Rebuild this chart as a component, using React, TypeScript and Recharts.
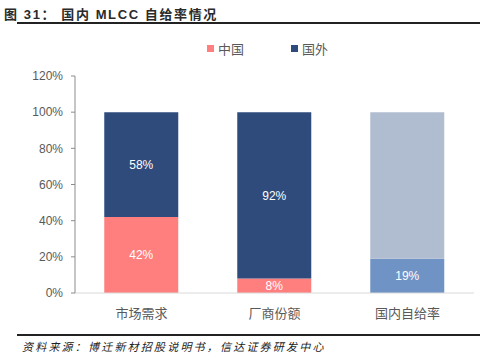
import React from "react";
import { BarChart, Bar, XAxis, YAxis, Cell, LabelList } from "recharts";

const categories = ["市场需求", "厂商份额", "国内自给率"];
const chinaValues = [42, 8, 19];
const foreignValues = [58, 92, 81];
const chinaLabels = ["42%", "8%", "19%"];
const foreignLabels = ["58%", "92%", ""];
const yTicks = [0, 20, 40, 60, 80, 100, 120];

const data = categories.map((c, i) => ({
  name: c,
  china: chinaValues[i],
  foreign: foreignValues[i],
  chinaLabel: chinaLabels[i],
  foreignLabel: foreignLabels[i],
}));

const PINK = "#FF7F7F";
const NAVY = "#2F4B7C";
const LIGHT = "#B0BCCF";
const MID = "#7093C6";
const FONT = "'Liberation Sans', Arial, 'Noto Sans CJK SC', sans-serif";

export default function App() {
  return (
    <div style={{ position: "absolute", left: 0, top: 0, width: 495, height: 362, background: "#fff", fontFamily: FONT }}>
      <div style={{ position: "absolute", left: 4, top: 4, fontSize: 13, fontWeight: "bold", color: "#2a2a2a", fontFamily: "'Liberation Sans', 'Noto Sans CJK SC', sans-serif", whiteSpace: "nowrap", letterSpacing: 1.6 }}>
        图 31： 国内 MLCC 自给率情况
      </div>
      <div style={{ position: "absolute", left: 17, top: 22, width: 463, height: 2, background: "#222" }} />
      <div style={{ position: "absolute", left: 0, top: 0 }}>
        <BarChart width={495} height={362} data={data} margin={{ top: 76, right: 21, bottom: 39, left: 0 }} barCategoryGap="22%">
          <XAxis
            dataKey="name"
            height={30}
            axisLine={{ stroke: "#d9d9d9" }}
            tickLine={false}
            tick={{ fill: "#595959", fontSize: 13, fontFamily: "'Noto Sans CJK SC', sans-serif" }}
            tickMargin={10}
          />
          <YAxis
            domain={[0, 120]}
            ticks={yTicks}
            tickFormatter={(v: number) => `${v}%`}
            axisLine={{ stroke: "#8c8c8c" }}
            tickLine={{ stroke: "#8c8c8c" }}
            tickSize={4}
            tickMargin={8}
            tick={{ fill: "#595959", fontSize: 12, fontFamily: FONT }}
            width={75}
            interval={0}
          />
          <Bar dataKey="china" stackId="a" fill={PINK} isAnimationActive={false}>
            {data.map((d, i) => (
              <Cell key={i} fill={i === 2 ? MID : PINK} />
            ))}
            <LabelList dataKey="chinaLabel" position="center" fill="#ffffff" fontSize={12} fontFamily={FONT} />
          </Bar>
          <Bar dataKey="foreign" stackId="a" fill={NAVY} isAnimationActive={false}>
            {data.map((d, i) => (
              <Cell key={i} fill={i === 2 ? LIGHT : NAVY} />
            ))}
            <LabelList dataKey="foreignLabel" position="center" fill="#ffffff" fontSize={12} fontFamily={FONT} />
          </Bar>
        </BarChart>
      </div>
      <div style={{ position: "absolute", left: 207, top: 39, display: "flex", alignItems: "center", fontSize: 13, color: "#595959", fontFamily: "'Noto Sans CJK SC', sans-serif" }}>
        <span style={{ display: "inline-block", width: 7, height: 7, background: PINK, marginRight: 4 }} />
        <span>中国</span>
        <span style={{ display: "inline-block", width: 7, height: 7, background: NAVY, marginLeft: 47, marginRight: 4 }} />
        <span>国外</span>
      </div>
      <div style={{ position: "absolute", left: 17, top: 334, width: 463, height: 2, background: "#222" }} />
      <div style={{ position: "absolute", left: 22, top: 338, fontSize: 11, fontStyle: "italic", color: "#222", fontFamily: "'Noto Sans CJK SC', sans-serif", whiteSpace: "nowrap", letterSpacing: 2.2 }}>
        资料来源：博迁新材招股说明书，信达证券研发中心
      </div>
    </div>
  );
}
